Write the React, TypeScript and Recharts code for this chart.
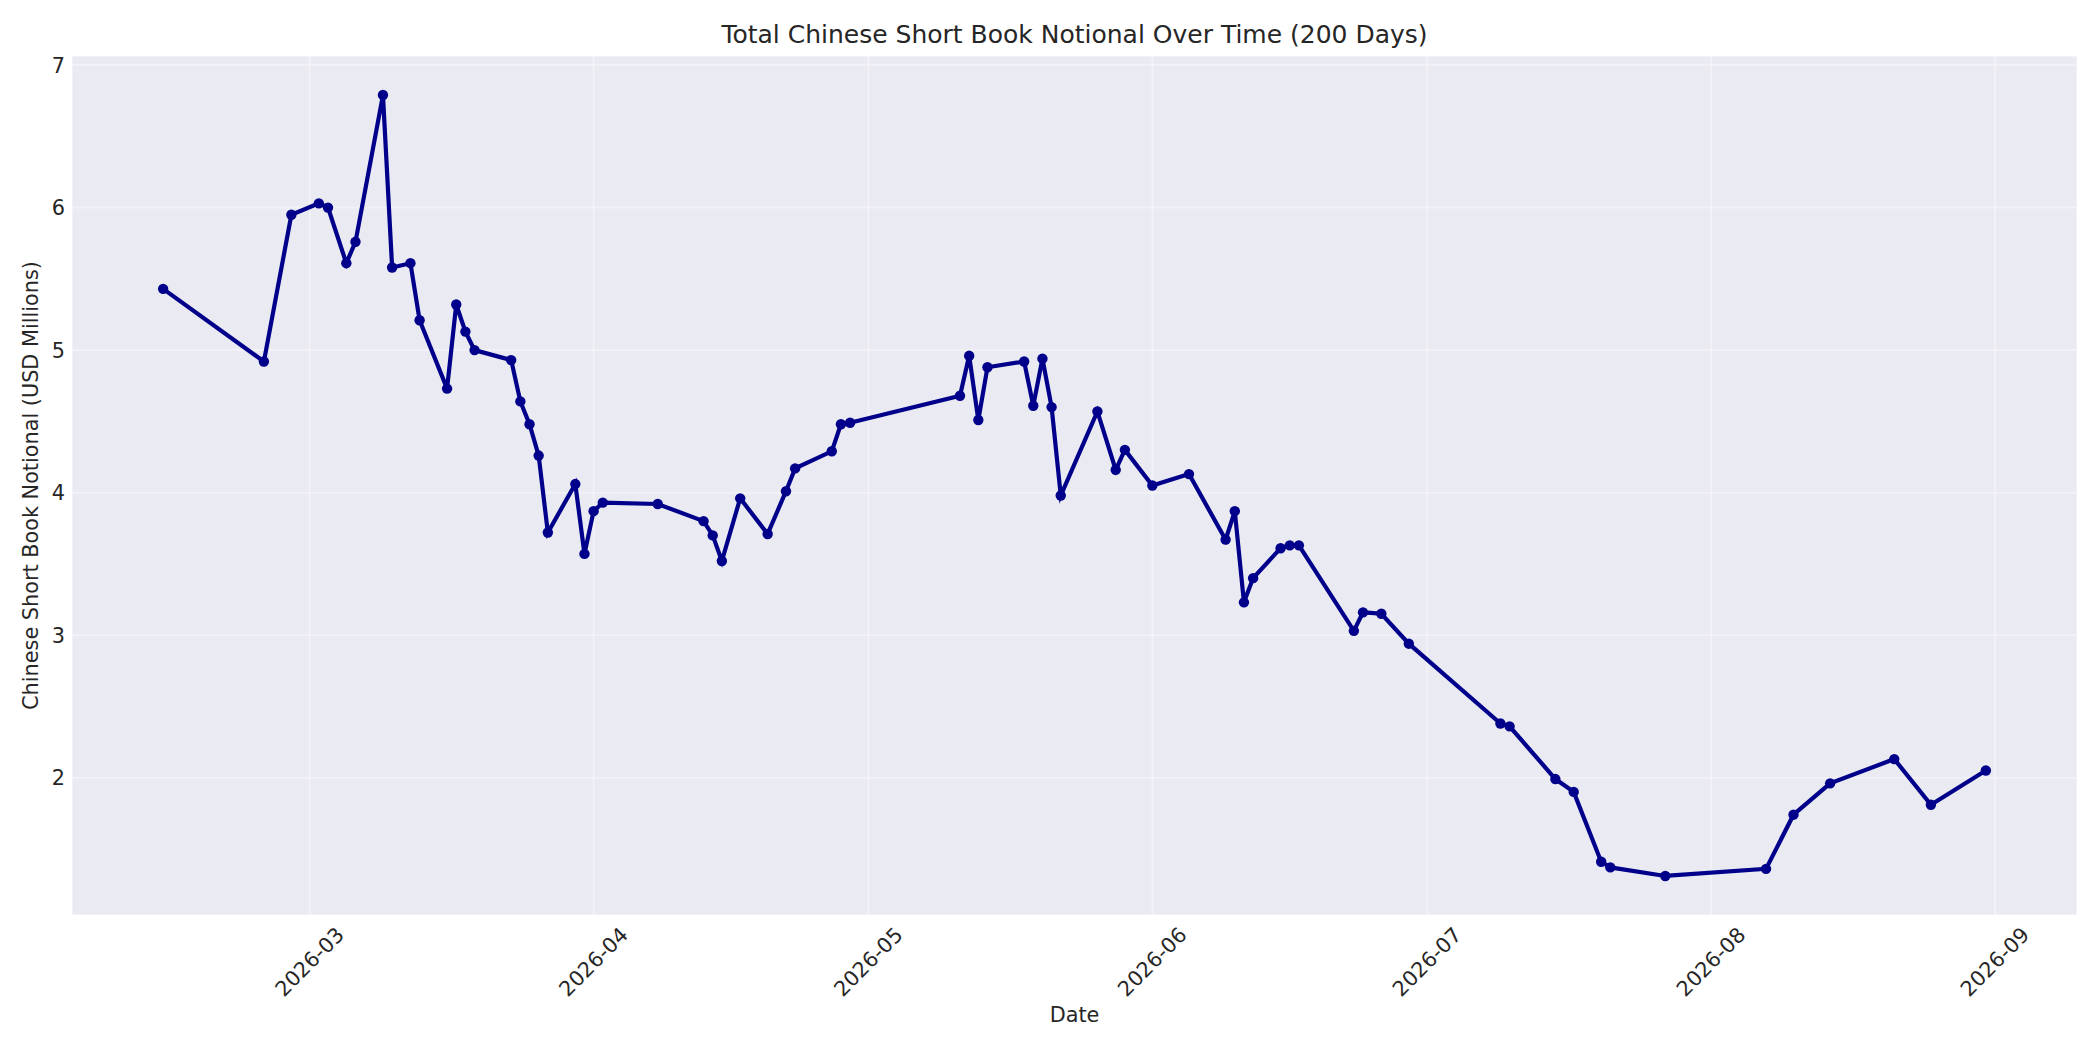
import React from 'react';
import { LineChart, Line, XAxis, YAxis, CartesianGrid } from 'recharts';

const dates = [
  '2026-02-13', '2026-02-24', '2026-02-27', '2026-03-02', '2026-03-03', '2026-03-05', '2026-03-06',
  '2026-03-09', '2026-03-10', '2026-03-12', '2026-03-13', '2026-03-16', '2026-03-17', '2026-03-18',
  '2026-03-19', '2026-03-23', '2026-03-24', '2026-03-25', '2026-03-26', '2026-03-27', '2026-03-30',
  '2026-03-31', '2026-04-01', '2026-04-02', '2026-04-08', '2026-04-13', '2026-04-14', '2026-04-15',
  '2026-04-17', '2026-04-20', '2026-04-22', '2026-04-23', '2026-04-27', '2026-04-28', '2026-04-29',
  '2026-05-11', '2026-05-12', '2026-05-13', '2026-05-14', '2026-05-18', '2026-05-19', '2026-05-20',
  '2026-05-21', '2026-05-22', '2026-05-26', '2026-05-28', '2026-05-29', '2026-06-01', '2026-06-05',
  '2026-06-09', '2026-06-10', '2026-06-11', '2026-06-12', '2026-06-15', '2026-06-16', '2026-06-17',
  '2026-06-23', '2026-06-24', '2026-06-26', '2026-06-29', '2026-07-09', '2026-07-10', '2026-07-15',
  '2026-07-17', '2026-07-20', '2026-07-21', '2026-07-27', '2026-08-07', '2026-08-10', '2026-08-14',
  '2026-08-21', '2026-08-25', '2026-08-31',
];

const notional = [
  5.43, 4.92, 5.95, 6.03, 6.0, 5.61, 5.76,
  6.79, 5.58, 5.61, 5.21, 4.73, 5.32, 5.13,
  5.0, 4.93, 4.64, 4.48, 4.26, 3.72, 4.06,
  3.57, 3.87, 3.93, 3.92, 3.8, 3.7, 3.52,
  3.96, 3.71, 4.01, 4.17, 4.29, 4.48, 4.49,
  4.68, 4.96, 4.51, 4.88, 4.92, 4.61, 4.94,
  4.6, 3.98, 4.57, 4.16, 4.3, 4.05, 4.13,
  3.67, 3.87, 3.23, 3.4, 3.61, 3.63, 3.63,
  3.03, 3.16, 3.15, 2.94, 2.38, 2.36, 1.99,
  1.9, 1.41, 1.37, 1.31, 1.36, 1.74, 1.96,
  2.13, 1.81, 2.05,
];

const monthTicks = ['2026-03-01', '2026-04-01', '2026-05-01', '2026-06-01', '2026-07-01', '2026-08-01', '2026-09-01'];
const yTicks = [2, 3, 4, 5, 6, 7];

const TITLE = 'Total Chinese Short Book Notional Over Time (200 Days)';
const X_LABEL = 'Date';
const Y_LABEL = 'Chinese Short Book Notional (USD Millions)';

const DAY_MS = 86400000;
const toDay = (s: string) => Date.parse(s + 'T00:00:00Z') / DAY_MS;

const data = dates.map((d, i) => ({ t: toDay(d), v: notional[i] }));
const tVals = data.map((d) => d.t);
const vVals = data.map((d) => d.v);
const tMin = Math.min(...tVals);
const tMax = Math.max(...tVals);
const tPad = (tMax - tMin) * 0.05;
const vMin = Math.min(...vVals);
const vMax = Math.max(...vVals);
const vPad = (vMax - vMin) * 0.05;
const xTicks = monthTicks.map(toDay);

const FONT = '"DejaVu Sans", sans-serif';
const TEXT = '#262626';
const W = 2100;
const H = 1050;
const M_TOP = 56;
const M_RIGHT = 23;
const Y_W = 72;
const X_H = 135;
const PLOT_BOTTOM = H - X_H;
const PLOT_CX = (Y_W + (W - M_RIGHT)) / 2;
const PLOT_CY = (M_TOP + PLOT_BOTTOM) / 2;

const fmtMonth = (day: number) => {
  const d = new Date(day * DAY_MS);
  const m = d.getUTCMonth() + 1;
  return `${d.getUTCFullYear()}-${m < 10 ? '0' + m : m}`;
};

const XTick = (props: any) => {
  const { x, y, payload } = props;
  return (
    <text
      x={0}
      y={0}
      transform={`translate(${x},${y + 47}) rotate(-45)`}
      textAnchor="middle"
      dominantBaseline="central"
      fill={TEXT}
      fontSize={20.8}
      fontFamily={FONT}
    >
      {fmtMonth(payload.value)}
    </text>
  );
};

const XLabel = () => (
  <text x={PLOT_CX} y={1015} textAnchor="middle" dominantBaseline="central" fill={TEXT} fontSize={20.8} fontFamily={FONT}>
    {X_LABEL}
  </text>
);

const YLabel = () => (
  <text
    x={0}
    y={0}
    transform={`translate(31,${PLOT_CY}) rotate(-90)`}
    textAnchor="middle"
    dominantBaseline="central"
    fill={TEXT}
    fontSize={20.8}
    fontFamily={FONT}
  >
    {Y_LABEL}
  </text>
);

export default function App() {
  return (
    <div style={{ position: 'absolute', left: 0, top: 0, width: W, height: H, background: '#ffffff' }}>
      <div
        style={{
          position: 'absolute',
          left: Y_W,
          width: W - M_RIGHT - Y_W,
          top: 20,
          height: 30,
          lineHeight: '30px',
          textAlign: 'center',
          fontFamily: FONT,
          fontSize: 25,
          color: TEXT,
        }}
      >
        {TITLE}
      </div>
      <LineChart width={W} height={H} data={data} margin={{ top: M_TOP, right: M_RIGHT, bottom: 0, left: 0 }}>
        <CartesianGrid fill="#EAEAF2" stroke="#ffffff" strokeOpacity={0.35} strokeWidth={2} />
        <XAxis
          dataKey="t"
          type="number"
          domain={[tMin - tPad, tMax + tPad]}
          ticks={xTicks}
          allowDataOverflow
          height={X_H}
          axisLine={false}
          tickLine={false}
          tickSize={0}
          tickMargin={0}
          tick={<XTick />}
          interval={0}
          label={<XLabel />}
        />
        <YAxis
          dataKey="v"
          type="number"
          domain={[vMin - vPad, vMax + vPad]}
          ticks={yTicks}
          allowDataOverflow
          width={Y_W}
          axisLine={false}
          tickLine={false}
          tickSize={0}
          tickMargin={7}
          interval={0}
          tick={{ fill: TEXT, fontSize: 20.8, fontFamily: FONT }}
          label={<YLabel />}
        />
        <Line
          type="linear"
          dataKey="v"
          stroke="#00008B"
          strokeWidth={4.2}
          dot={{ r: 5.2, fill: '#00008B', stroke: 'none' }}
          activeDot={false}
          isAnimationActive={false}
        />
      </LineChart>
    </div>
  );
}
